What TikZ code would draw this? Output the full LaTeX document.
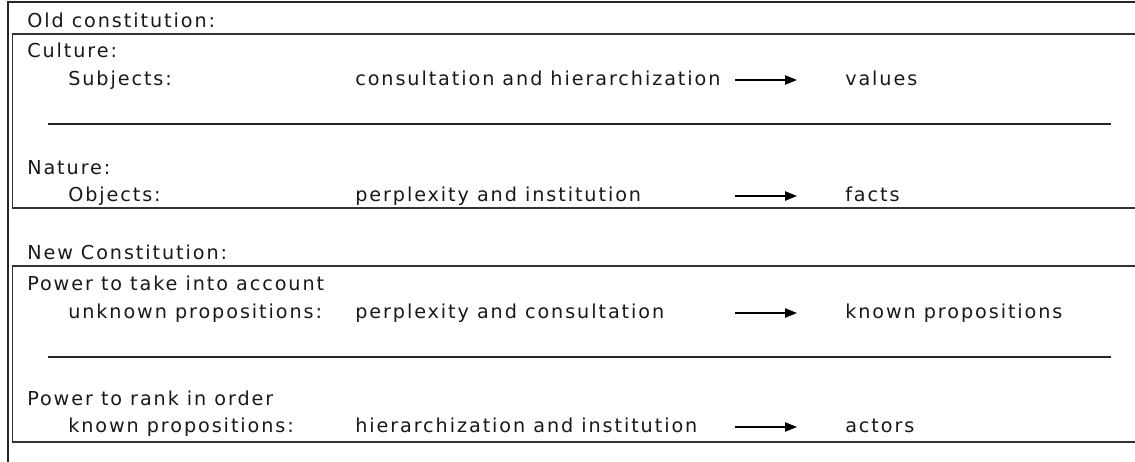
\documentclass[tikz,border=0pt]{standalone}
\usepackage{fontspec}
\setmainfont{DejaVu Sans}[LetterSpace=10]
\usetikzlibrary{arrows.meta}
\begin{document}
\begin{tikzpicture}[x=0.75pt,y=-0.75pt,
  txt/.style={anchor=base west,inner sep=0pt,font=\fontsize{14.4pt}{17pt}\selectfont,text=black!90},
  frame/.style={draw=black!85,line width=1.1pt},
  boxline/.style={draw=black!80,line width=1.4pt},
  sepline/.style={draw=black!85,line width=1.1pt},
  arr/.style={draw=black,line width=1pt,-{Triangle[length=9pt,width=7pt]}}]
\useasboundingbox (0,0) rectangle (1135,461);
\clip (0,0) rectangle (1135,461);
\fill[white] (0,0) rectangle (1135,461);
% outer frame
\draw[frame] (8,520) -- (8,2) -- (1200,2);
% boxes
\draw[boxline] (12.5,34) rectangle (1200,208);
\draw[boxline] (12.5,266) rectangle (1200,442);
% separators
\coordinate (s1a) at (48,124);
\coordinate (s1b) at (1111,124);
\coordinate (s2a) at (48,357);
\coordinate (s2b) at (1111,357);
\draw[sepline] (s1a) -- (s1b);
\draw[sepline] (s2a) -- (s2b);
% titles
\node[txt] (old) at (27,27) {Old constitution:};
\node[txt] (new) at (27,259) {New Constitution:};
% old box
\node[txt] (cult) at (27,57) {Culture:};
\node[txt] (subj) at (68,85) {Subjects:};
\node[txt] (m1) at (355,85) {consultation and hierarchization};
\node[txt] (r1) at (845,85) {values};
\node[txt] (nat) at (27,174) {Nature:};
\node[txt] (obj) at (68,201) {Objects:};
\node[txt] (m2) at (355,201) {perplexity and institution};
\node[txt] (r2) at (845,201) {facts};
% new box
\node[txt] (pt) at (27,290) {Power to take into account};
\node[txt] (unk) at (68,318) {unknown propositions:};
\node[txt] (m3) at (355,318) {perplexity and consultation};
\node[txt] (r3) at (845,318) {known propositions};
\node[txt] (pr) at (27,405) {Power to rank in order};
\node[txt] (kn) at (68,432) {known propositions:};
\node[txt] (m4) at (355,432) {hierarchization and institution};
\node[txt] (r4) at (845,432) {actors};
% arrows
\coordinate (a1s) at (735,80);
\coordinate (a1e) at (797,80);
\coordinate (a2s) at (735,196);
\coordinate (a2e) at (797,196);
\coordinate (a3s) at (735,313);
\coordinate (a3e) at (797,313);
\coordinate (a4s) at (735,427);
\coordinate (a4e) at (797,427);
\draw[arr] (a1s) -- (a1e);
\draw[arr] (a2s) -- (a2e);
\draw[arr] (a3s) -- (a3e);
\draw[arr] (a4s) -- (a4e);
\end{tikzpicture}
\end{document}
